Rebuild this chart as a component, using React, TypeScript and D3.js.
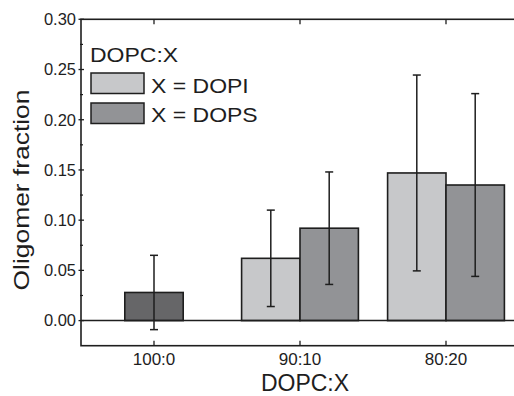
import * as d3 from "d3";

const categories = ["100:0", "90:10", "80:20"];
const dopcValue = [0.028];
const dopcError = [0.037];
const dopiValues = [null, 0.062, 0.147];
const dopiErrors = [null, 0.048, 0.0975];
const dopsValues = [null, 0.092, 0.135];
const dopsErrors = [null, 0.056, 0.091];
const yTicks = [0, 0.05, 0.1, 0.15, 0.2, 0.25, 0.3];
const yMinor = [0.025, 0.075, 0.125, 0.175, 0.225, 0.275];

const colors = { dopc: "#666668", dopi: "#c7c8ca", dops: "#929396" };
const ink = "#1e1e1e";
const font = "'Liberation Sans', Arial, sans-serif";

// wide-ish text like the original export
function Stretched({ x, y, size, sx, children }: { x: number; y: number; size: number; sx: number; children: string }) {
  return (
    <text transform={`translate(${x},${y}) scale(${sx},1)`} fontSize={size} fill={ink}>
      {children}
    </text>
  );
}

export default function App() {
  const width = 514;
  const height = 396;
  const x = d3.scaleLinear([0.5, 3.5], [81, 519]);
  const y = d3.scaleLinear([-0.025, 0.3], [345.7, 19.3]);
  const bw = x(0.4) - x(0);
  const zero = y(0);

  type Bar = { cx: number; value: number; err: number; fill: string; key: string };
  const bars: Bar[] = [];
  dopcValue.forEach((v, i) =>
    bars.push({ key: "dopc" + i, cx: x(i + 1), value: v, err: dopcError[i], fill: colors.dopc })
  );
  categories.forEach((c, i) => {
    const a = dopiValues[i];
    const b = dopsValues[i];
    if (a != null) bars.push({ key: "dopi" + c, cx: x(i + 1) - bw / 2, value: a, err: dopiErrors[i] ?? 0, fill: colors.dopi });
    if (b != null) bars.push({ key: "dops" + c, cx: x(i + 1) + bw / 2, value: b, err: dopsErrors[i] ?? 0, fill: colors.dops });
  });

  const left = x(0.5);
  const right = x(3.5);
  const top = y(0.3);
  const bottom = y(-0.025);

  return (
    <svg
      width={width}
      height={height}
      viewBox={`0 0 ${width} ${height}`}
      style={{ position: "absolute", left: 0, top: 0, background: "#fff" }}
      fontFamily={font}
    >
      {bars.map((b) => (
        <rect
          key={b.key}
          x={b.cx - bw / 2}
          y={y(b.value)}
          width={bw}
          height={zero - y(b.value)}
          fill={b.fill}
          stroke={ink}
          strokeWidth={1.6}
        />
      ))}
      {bars.map((b) => (
        <g key={"e" + b.key} stroke={ink} strokeWidth={1.5}>
          <line x1={b.cx} x2={b.cx} y1={y(b.value + b.err)} y2={y(b.value - b.err)} />
          <line x1={b.cx - 4} x2={b.cx + 4} y1={y(b.value + b.err)} y2={y(b.value + b.err)} />
          <line x1={b.cx - 4} x2={b.cx + 4} y1={y(b.value - b.err)} y2={y(b.value - b.err)} />
        </g>
      ))}
      <line x1={left} x2={right} y1={zero} y2={zero} stroke={ink} strokeWidth={1.5} />
      <rect x={left} y={top} width={right - left} height={bottom - top} fill="none" stroke={ink} strokeWidth={1.6} />
      {yTicks.map((t) => (
        <g key={t}>
          <line x1={left - 2.5} x2={left + 3} y1={y(t)} y2={y(t)} stroke={ink} strokeWidth={1.3} />
          <line x1={right - 5} x2={right} y1={y(t)} y2={y(t)} stroke={ink} strokeWidth={1.3} />
          <text x={left - 5} y={y(t) + 5.8} textAnchor="end" fontSize={16.5} fill={ink}>
            {t.toFixed(2)}
          </text>
        </g>
      ))}
      {yMinor.map((t) => (
        <line key={t} x1={left - 1} x2={left + 2} y1={y(t)} y2={y(t)} stroke={ink} strokeWidth={1.2} />
      ))}
      {categories.map((c, i) => (
        <g key={c}>
          <line x1={x(i + 1)} x2={x(i + 1)} y1={bottom} y2={bottom - 5} stroke={ink} strokeWidth={1.3} />
          <line x1={x(i + 1)} x2={x(i + 1)} y1={top} y2={top + 5} stroke={ink} strokeWidth={1.3} />
          <text x={x(i + 1)} y={365} textAnchor="middle" fontSize={17} fill={ink}>
            {c}
          </text>
        </g>
      ))}
      <text x={305} y={391} textAnchor="middle" fontSize={23} fill={ink}>
        DOPC:X
      </text>
      <text
        transform={`translate(29,190) rotate(-90) scale(1.2,1)`}
        textAnchor="middle"
        fontSize={22}
        fill={ink}
      >
        Oligomer fraction
      </text>
      <g>
        <Stretched x={90} y={62} size={20} sx={1.15}>DOPC:X</Stretched>
        <rect x={91} y={73} width={53} height={20.5} fill={colors.dopi} stroke={ink} strokeWidth={1.5} />
        <Stretched x={151} y={93} size={20} sx={1.15}>X = DOPI</Stretched>
        <rect x={91} y={103} width={53} height={20.5} fill={colors.dops} stroke={ink} strokeWidth={1.5} />
        <Stretched x={151} y={122} size={20} sx={1.15}>X = DOPS</Stretched>
      </g>
    </svg>
  );
}
